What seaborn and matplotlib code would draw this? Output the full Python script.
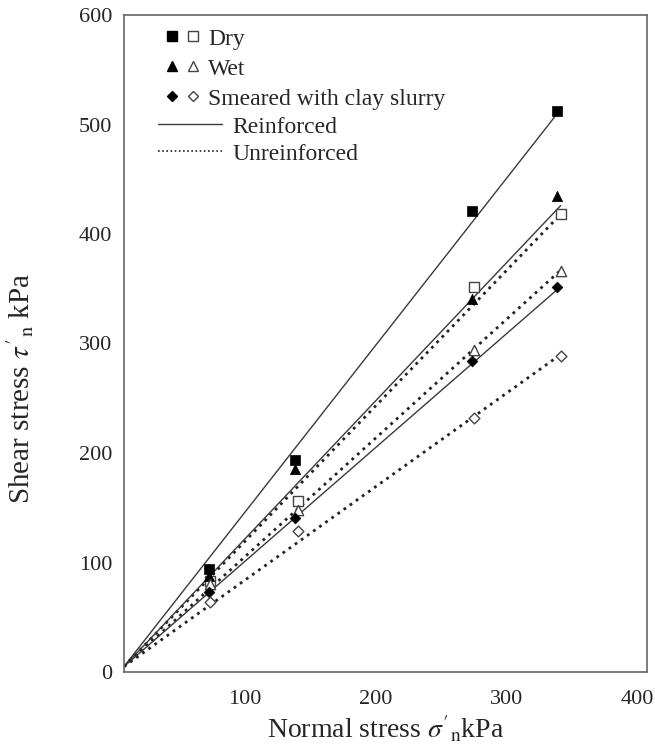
import numpy as np
import pandas as pd
import matplotlib
matplotlib.use("Agg")
import matplotlib.pyplot as plt
import matplotlib.transforms as mtransforms
from matplotlib.lines import Line2D
from matplotlib.legend_handler import HandlerTuple
import seaborn as sns

# ---------------- data ----------------
conditions = ["Dry", "Wet", "Smeared with clay slurry"]
x_filled = [65, 131, 266, 331]
x_open = [66, 133, 268, 334]

dry_reinf = [94, 194, 421, 512]
dry_unreinf = [83, 156, 352, 418]
wet_reinf = [88, 185, 341, 435]
wet_unreinf = [80, 148, 294, 366]
smear_reinf = [73, 141, 284, 352]
smear_unreinf = [64, 129, 232, 289]

# fitted lines: value at start and end of fit range
fit_x = [0, 334]
dry_reinf_fit = [5, 514]
wet_reinf_fit = [5, 426]
smear_reinf_fit = [5, 352]
dry_unreinf_fit = [5, 418]
wet_unreinf_fit = [5, 367]
smear_unreinf_fit = [5, 290]

x_ticks = [100, 200, 300, 400]
y_ticks = [0, 100, 200, 300, 400, 500, 600]

# ---------------- style ----------------
sns.set_style("white")
plt.rcParams["font.family"] = ["Liberation Serif", "DejaVu Serif"]
plt.rcParams["mathtext.fontset"] = "stix"

fig = plt.figure(figsize=(6.55, 7.49), dpi=100)
ax = fig.add_axes([124 / 655, 1 - 672 / 749, (647 - 124) / 655, (672 - 15) / 749])

markers = {"Dry": "s", "Wet": "^", "Smeared with clay slurry": "D"}
msize = {"Dry": 55, "Wet": 55, "Smeared with clay slurry": 30}
reinf = {"Dry": dry_reinf, "Wet": wet_reinf, "Smeared with clay slurry": smear_reinf}
unreinf = {"Dry": dry_unreinf, "Wet": wet_unreinf, "Smeared with clay slurry": smear_unreinf}
reinf_fit = {"Dry": dry_reinf_fit, "Wet": wet_reinf_fit, "Smeared with clay slurry": smear_reinf_fit}
unreinf_fit = {"Dry": dry_unreinf_fit, "Wet": wet_unreinf_fit, "Smeared with clay slurry": smear_unreinf_fit}

# lines
for c in conditions:
    df_r = pd.DataFrame({"x": fit_x, "y": reinf_fit[c]})
    sns.lineplot(data=df_r, x="x", y="y", ax=ax, color="#3a3a3a", lw=1.0,
                 linestyle="-", zorder=2)
    df_u = pd.DataFrame({"x": fit_x, "y": unreinf_fit[c]})
    sns.lineplot(data=df_u, x="x", y="y", ax=ax, color="#222222", lw=2.0,
                 linestyle=(0, (1, 1.7)), zorder=2)

# markers
for c in conditions:
    df_f = pd.DataFrame({"x": x_filled, "y": reinf[c]})
    sns.scatterplot(data=df_f, x="x", y="y", ax=ax, marker=markers[c], s=msize[c],
                    color="black", edgecolor="black", linewidth=0.5, zorder=4)
    df_o = pd.DataFrame({"x": x_open, "y": unreinf[c]})
    sns.scatterplot(data=df_o, x="x", y="y", ax=ax, marker=markers[c], s=msize[c],
                    facecolor="white", edgecolor="#444444", linewidth=1.0, zorder=4)

ax.set_xlim(0, 400)
ax.set_ylim(0, 600)
ax.set_xticks(x_ticks)
ax.set_yticks(y_ticks)
ax.set_xticklabels([str(v) for v in x_ticks])
ax.set_yticklabels([str(v) for v in y_ticks])
ax.tick_params(direction="in", length=10, width=1.0, color="#555555", labelsize=16)
ax.tick_params(axis="y", pad=8.5)
ax.tick_params(axis="x", pad=13)
for lab in ax.get_xticklabels():
    lab.set_transform(lab.get_transform() +
                      mtransforms.ScaledTranslation(-10 / 100, 0, fig.dpi_scale_trans))
for sp in ax.spines.values():
    sp.set_color("#666666")
    sp.set_linewidth(1.2)
    sp.set_visible(True)

ax.set_xlabel(r"Normal stress $\sigma'_{\rm n}$kPa", fontsize=20)
ax.set_ylabel(r"Shear stress $\tau'_{\rm n}$ kPa", fontsize=21)
ax.xaxis.set_label_coords(0.5, (672 - 714) / 657)
ax.yaxis.set_label_coords((36 - 124) / 523, (672 - 388) / 657)

fs_leg = 17
fs_px = fs_leg * 100 / 72

# legend 1: markers
h = []
for c in conditions:
    ms = 7 if c != "Smeared with clay slurry" else 5.5
    f = Line2D([], [], marker=markers[c], color="black", ls="none", markersize=ms)
    o = Line2D([], [], marker=markers[c], markerfacecolor="white",
               markeredgecolor="#444444", ls="none", markersize=ms)
    h.append((f, o))
leg1 = ax.legend(h, conditions,
                 handler_map={tuple: HandlerTuple(ndivide=None, pad=6 / fs_px)},
                 loc="upper left", bbox_to_anchor=(164.5 / 655, 1 - 28 / 749),
                 bbox_transform=fig.transFigure, frameon=False, fontsize=fs_leg,
                 handlelength=36 / fs_px, handletextpad=7.5 / fs_px, labelspacing=0.36,
                 borderpad=0, borderaxespad=0)
ax.add_artist(leg1)

h2 = [Line2D([], [], color="#3a3a3a", lw=1.0),
      Line2D([], [], color="#222222", lw=1.2, linestyle=(0, (1, 1.5)))]
ax.legend(h2, ["Reinforced", "Unreinforced"], loc="upper left",
          bbox_to_anchor=(158 / 655, 1 - 116 / 749), bbox_transform=fig.transFigure,
          frameon=False, fontsize=fs_leg, handlelength=64 / fs_px,
          handletextpad=10 / fs_px, labelspacing=0.24, borderpad=0, borderaxespad=0)

fig.savefig("out.png", dpi=100)
